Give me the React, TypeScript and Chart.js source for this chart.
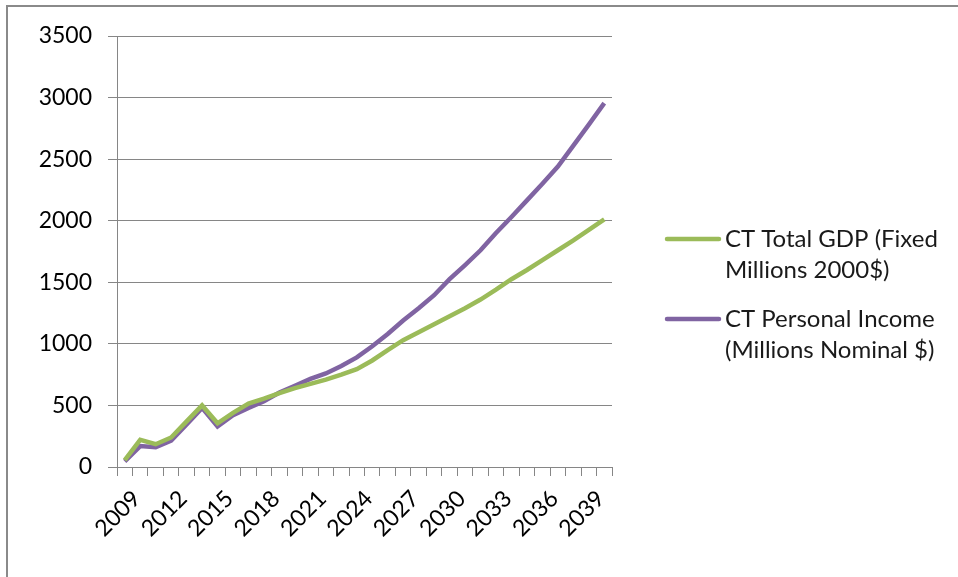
import React, { useEffect, useRef } from "react";
import { Chart, registerables } from "chart.js";

Chart.register(...registerables);

const years: string[] = [
  "2009","2010","2011","2012","2013","2014","2015","2016","2017","2018",
  "2019","2020","2021","2022","2023","2024","2025","2026","2027","2028",
  "2029","2030","2031","2032","2033","2034","2035","2036","2037","2038",
  "2039","2040",
];

const gdpLabel: string[] = ["CT Total GDP (Fixed", "Millions 2000$)"];
const incomeLabel: string[] = ["CT Personal Income", "(Millions Nominal $)"];

const gdpValues: number[] = [
  55, 220, 185, 240, 370, 500, 355, 440, 515, 555,
  600, 640, 675, 710, 750, 795, 865, 950, 1030, 1095,
  1160, 1225, 1290, 1360, 1440, 1525, 1600, 1680, 1760, 1840,
  1925, 2010,
];

const incomeValues: number[] = [
  45, 170, 160, 215, 345, 480, 330, 420, 480, 535,
  605, 660, 715, 760, 820, 890, 980, 1080, 1190, 1290,
  1395, 1525, 1640, 1760, 1900, 2030, 2165, 2300, 2440, 2610,
  2780, 2955,
];

const yMin = 0;
const yMax = 3500;
const yStep = 500;

const FONT = "Lato, 'Open Sans', sans-serif";

const legendPlugin = {
  id: "sideLegend",
  afterDraw(chart: any) {
    const ctx = chart.ctx;
    const ys = [239, 319];
    ctx.save();
    chart.data.datasets.forEach((ds: any, i: number) => {
      const y = ys[i];
      ctx.strokeStyle = ds.borderColor;
      ctx.lineWidth = 4.5;
      ctx.lineCap = "round";
      ctx.beginPath();
      ctx.moveTo(667, y);
      ctx.lineTo(719, y);
      ctx.stroke();
      ctx.fillStyle = "#1a1a1a";
      ctx.font = `24px ${FONT}`;
      ctx.textBaseline = "middle";
      ctx.textAlign = "left";
      const lines: string[] = Array.isArray(ds.label) ? ds.label : [ds.label];
      lines.forEach((t, j) => ctx.fillText(t, 725, y + j * 31));
    });
    ctx.restore();
  },
};

export default function App() {
  const ref = useRef<HTMLCanvasElement | null>(null);

  useEffect(() => {
    if (!ref.current) return;
    const chart = new Chart(ref.current, {
      type: "line",
      data: {
        labels: years,
        datasets: [
          {
            label: gdpLabel as any,
            data: gdpValues,
            borderColor: "#9BBB59",
            backgroundColor: "#9BBB59",
            borderWidth: 4.5,
            pointRadius: 0,
            tension: 0,
          },
          {
            label: incomeLabel as any,
            data: incomeValues,
            borderColor: "#8064A2",
            backgroundColor: "#8064A2",
            borderWidth: 4.5,
            pointRadius: 0,
            tension: 0,
          },
        ],
      },
      options: {
        responsive: false,
        animation: false,
        layout: { padding: { top: 36, right: 346, left: 0, bottom: 0 } },
        plugins: { legend: { display: false }, tooltip: { enabled: false } },
        scales: {
          x: {
            offset: true,
            afterFit(scale: any) {
              scale.height = 110;
            },
            grid: {
              offset: true,
              drawOnChartArea: false,
              drawTicks: true,
              tickLength: 9,
              color: "#868686",
            },
            border: { color: "#868686", width: 1 },
            ticks: {
              autoSkip: false,
              maxRotation: 45,
              minRotation: 45,
              padding: 9,
              labelOffset: 12,
              color: "#000",
              font: { family: FONT, size: 23 },
              callback: (_v: any, i: number) => (i % 3 === 0 ? years[i] : ""),
            },
          },
          y: {
            min: yMin,
            max: yMax,
            afterFit(scale: any) {
              scale.width = 117;
            },
            grid: {
              color: "#868686",
              tickLength: 9,
              drawTicks: true,
            },
            border: { color: "#868686", width: 1 },
            ticks: {
              stepSize: yStep,
              padding: 16,
              color: "#000",
              font: { family: FONT, size: 23 },
              callback: (v: any) => String(v),
            },
          },
        },
      },
      plugins: [legendPlugin],
    });
    return () => chart.destroy();
  }, []);

  return (
    <div style={{ position: "fixed", left: 0, top: 0, width: 958, height: 577, overflow: "hidden", background: "#fff" }}>
      <canvas ref={ref} width={958} height={577} style={{ position: "absolute", left: 0, top: 0, display: "block" }} />
      <div
        style={{
          position: "absolute",
          left: 6,
          top: 5,
          width: 1000,
          height: 1000,
          borderLeft: "2px solid #8a8a8a",
          borderTop: "2px solid #8a8a8a",
          pointerEvents: "none",
        }}
      />
    </div>
  );
}
